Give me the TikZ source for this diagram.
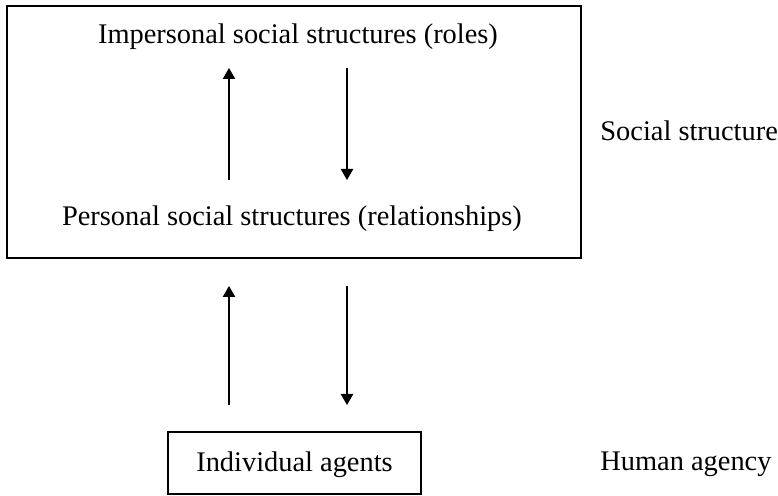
\documentclass[tikz,border=0pt]{standalone}
\usepackage{fontspec}
\setmainfont{Liberation Serif}
\usetikzlibrary{arrows.meta}
\begin{document}
\begin{tikzpicture}[x=0.5pt,y=-0.5pt,
  lbl/.style={inner sep=0pt,anchor=base,font=\fontsize{14.2}{17}\selectfont},
  box/.style={draw,line width=1pt},
  arr/.style={line width=0.55pt,-{Triangle[length=5.5pt,width=6.2pt]}}]
\useasboundingbox (0,0) rectangle (778,496);
\draw[box] (7,6) rectangle (581,258);
\node[lbl] (imp) at (298,44) {Impersonal social structures (roles)};
\node[lbl] (per) at (292,226) {Personal social structures (relationships)};
\node[lbl,anchor=base west] (ss) at (600,141) {Social structure};
\draw[box] (168,432) rectangle (421,494);
\node[lbl] (ind) at (294.5,472) {Individual agents};
\node[lbl,anchor=base west] (ha) at (600,471) {Human agency};
\coordinate (a1s) at (229,180); \coordinate (a1e) at (229,68);
\coordinate (a2s) at (347,68); \coordinate (a2e) at (347,180);
\coordinate (a3s) at (229,405); \coordinate (a3e) at (229,286);
\coordinate (a4s) at (347,286); \coordinate (a4e) at (347,405);
\draw[arr] (a1s) -- (a1e);
\draw[arr] (a2s) -- (a2e);
\draw[arr] (a3s) -- (a3e);
\draw[arr] (a4s) -- (a4e);
\end{tikzpicture}
\end{document}
